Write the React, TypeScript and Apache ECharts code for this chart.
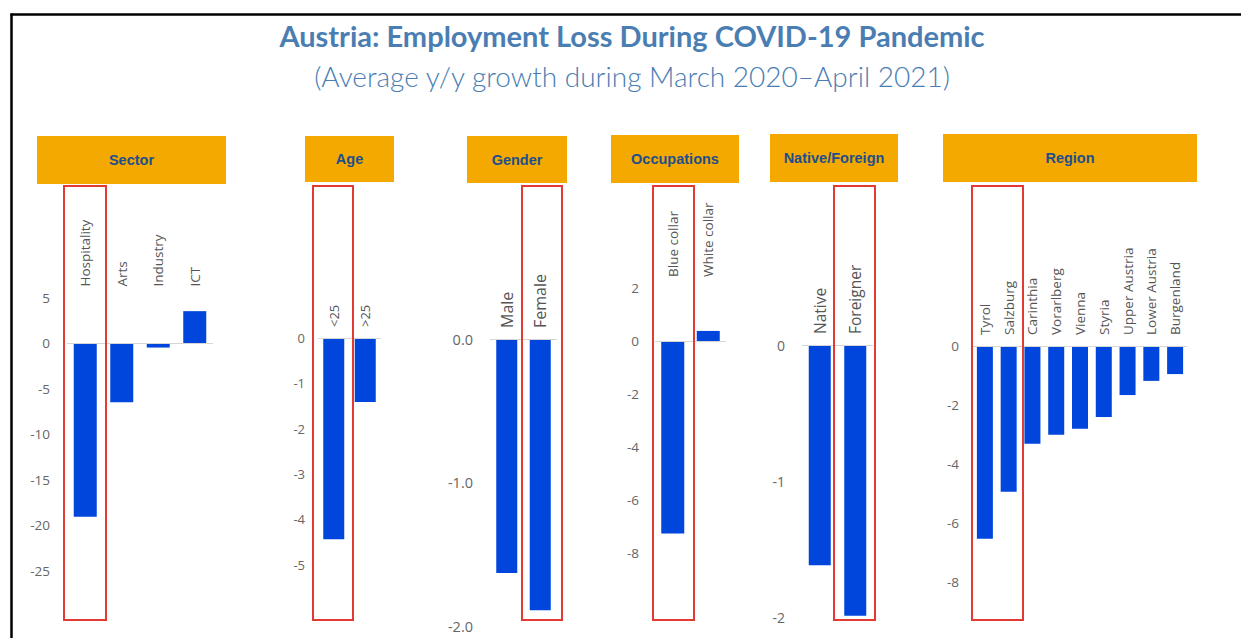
import React, { useEffect, useRef } from "react";
import * as echarts from "echarts";

// ---- data ----
const sectorCategories = ["Hospitality", "Arts", "Industry", "ICT"];
const sectorValues = [-19.1, -6.5, -0.5, 3.5];
const ageCategories = ["<25", ">25"];
const ageValues = [-4.44, -1.41];
const genderCategories = ["Male", "Female"];
const genderValues = [-1.63, -1.89];
const occupationCategories = ["Blue collar", "White collar"];
const occupationValues = [-7.26, 0.38];
const originCategories = ["Native", "Foreigner"];
const originValues = [-1.62, -1.99];
const regionCategories = [
  "Tyrol", "Salzburg", "Carinthia", "Vorarlberg", "Vienna",
  "Styria", "Upper Austria", "Lower Austria", "Burgenland",
];
const regionValues = [-6.52, -4.93, -3.31, -3.0, -2.8, -2.4, -1.66, -1.18, -0.95];

const panelTitles = ["Sector", "Age", "Gender", "Occupations", "Native/Foreign", "Region"];
const yMins = [-30, -6, -2, -10, -2, -9];
const yMaxs = [5, 0, 0, 2, 0, 0];
const yIntervals = [5, 1, 1, 2, 1, 1];

const TITLE = "Austria: Employment Loss During COVID-19 Pandemic";
const SUBTITLE = "(Average y/y growth during March 2020\u2013April 2021)";

// ---- styles / layout ----
const FONT = "'Open Sans', 'Noto Sans', sans-serif";
const BAR = "#0046DC";
const ORANGE = "#F3A900";
const HEAD_TEXT = "#1F4E8C";
const RED = "#E33A33";
const TITLE_COLOR = "#4A7EB3";

const layout = [
  { left: 67, width: 146, top: 297.5, height: 318.5, margin: 17, barWidth: 23, catFont: 13.5, valFont: 13.5, header: [37, 136, 189, 48], box: [64, 186, 42, 434] },
  { left: 318, width: 63, top: 338, height: 272, margin: 13, barWidth: 21, catFont: 13, valFont: 13, header: [305, 136, 89, 46], box: [313, 186, 40, 434] },
  { left: 490, width: 67, top: 339, height: 287, margin: 17, barWidth: 21, catFont: 16, valFont: 14.5, header: [467, 136, 100, 47], box: [522, 186, 40, 434] },
  { left: 655, width: 71, top: 288, height: 318, margin: 16, barWidth: 23, catFont: 13.5, valFont: 13.5, header: [611, 135, 128, 48], box: [653, 186, 41, 434] },
  { left: 802, width: 71, top: 345, height: 272, margin: 17, barWidth: 22, catFont: 15.5, valFont: 14, header: [770, 134, 128, 48], box: [834, 186, 41, 434] },
  { left: 973, width: 214, top: 346, height: 266, margin: 14, barWidth: 16, catFont: 13.5, valFont: 13.5, header: [943, 134, 254, 48], box: [972, 186, 51, 434] },
];

const categoriesList = [sectorCategories, ageCategories, genderCategories, occupationCategories, originCategories, regionCategories];
const valuesList = [sectorValues, ageValues, genderValues, occupationValues, originValues, regionValues];

function yFormatter(i: number) {
  return (v: number) => {
    if (i === 2) return v.toFixed(1);
    if (i === 5) return Math.round(v) % 2 === 0 ? String(v) : "";
    return String(v);
  };
}

export default function App() {
  const ref = useRef<HTMLDivElement>(null);

  useEffect(() => {
    document.body.style.margin = "0";
    if (!ref.current) return;
    const chart = echarts.init(ref.current, undefined, { renderer: "svg" });

    const grids: any[] = [];
    const xAxes: any[] = [];
    const yAxes: any[] = [];
    const series: any[] = [];
    const graphics: any[] = [];

    layout.forEach((l, i) => {
      grids.push({ left: l.left, top: l.top, width: l.width, height: l.height, containLabel: false });
      xAxes.push({
        type: "category",
        gridIndex: i,
        data: categoriesList[i],
        position: "top",
        axisLine: { show: false },
        axisTick: { show: false },
        axisLabel: {
          rotate: 90,
          margin: 11,
          interval: 0,
          color: "#555",
          fontFamily: FONT,
          fontSize: l.catFont,
        },
      });
      yAxes.push({
        type: "value",
        gridIndex: i,
        min: yMins[i],
        max: yMaxs[i],
        interval: yIntervals[i],
        axisLine: { show: false },
        axisTick: { show: false },
        splitLine: { show: false },
        axisLabel: {
          margin: l.margin,
          color: "#666",
          fontFamily: FONT,
          fontSize: l.valFont,
          showMinLabel: i === 2 || i === 4,
          formatter: yFormatter(i),
        },
      });
      series.push({
        type: "bar",
        xAxisIndex: i,
        yAxisIndex: i,
        data: valuesList[i],
        barWidth: l.barWidth,
        itemStyle: { color: BAR },
        silent: true,
        markLine: {
          silent: true,
          symbol: "none",
          label: { show: false },
          lineStyle: { color: "#D6D6D6", type: "solid", width: 1 },
          data: [{ yAxis: 0 }],
        },
      });

      const [hx, hy, hw, hh] = l.header;
      graphics.push({
        type: "rect",
        shape: { x: hx, y: hy, width: hw, height: hh },
        style: { fill: ORANGE },
        z: 10,
      });
      graphics.push({
        type: "text",
        x: hx + hw / 2,
        y: hy + hh / 2,
        style: {
          text: panelTitles[i],
          fill: HEAD_TEXT,
          font: `bold 14.5px 'Liberation Sans', Arial, sans-serif`,
          textAlign: "center",
          textVerticalAlign: "middle",
        },
        z: 11,
      });
      const [bx, by, bw, bh] = l.box;
      graphics.push({
        type: "rect",
        shape: { x: bx, y: by, width: bw, height: bh },
        style: { fill: "none", stroke: RED, lineWidth: 2 },
        z: 20,
      });
    });

    // frame
    graphics.push({
      type: "line",
      shape: { x1: 10.5, y1: 14.5, x2: 1241, y2: 14.5 },
      style: { stroke: "#000", lineWidth: 2.5 },
    });
    graphics.push({
      type: "line",
      shape: { x1: 11.5, y1: 13.5, x2: 11.5, y2: 638 },
      style: { stroke: "#000", lineWidth: 2.5 },
    });
    // titles
    graphics.push({
      type: "text",
      x: 632,
      y: 35,
      style: {
        text: TITLE,
        fill: TITLE_COLOR,
        font: `bold 29px Lato, 'Open Sans', sans-serif`,
        textAlign: "center",
        textVerticalAlign: "middle",
      },
    });
    graphics.push({
      type: "text",
      x: 632,
      y: 76,
      style: {
        text: SUBTITLE,
        fill: TITLE_COLOR,
        font: `300 28px Lato, 'Open Sans', sans-serif`,
        textAlign: "center",
        textVerticalAlign: "middle",
      },
    });

    chart.setOption({
      animation: false,
      backgroundColor: "#fff",
      grid: grids,
      xAxis: xAxes,
      yAxis: yAxes,
      series,
      graphic: graphics,
    });

    return () => chart.dispose();
  }, []);

  return <div ref={ref} style={{ width: 1241, height: 638 }} />;
}
